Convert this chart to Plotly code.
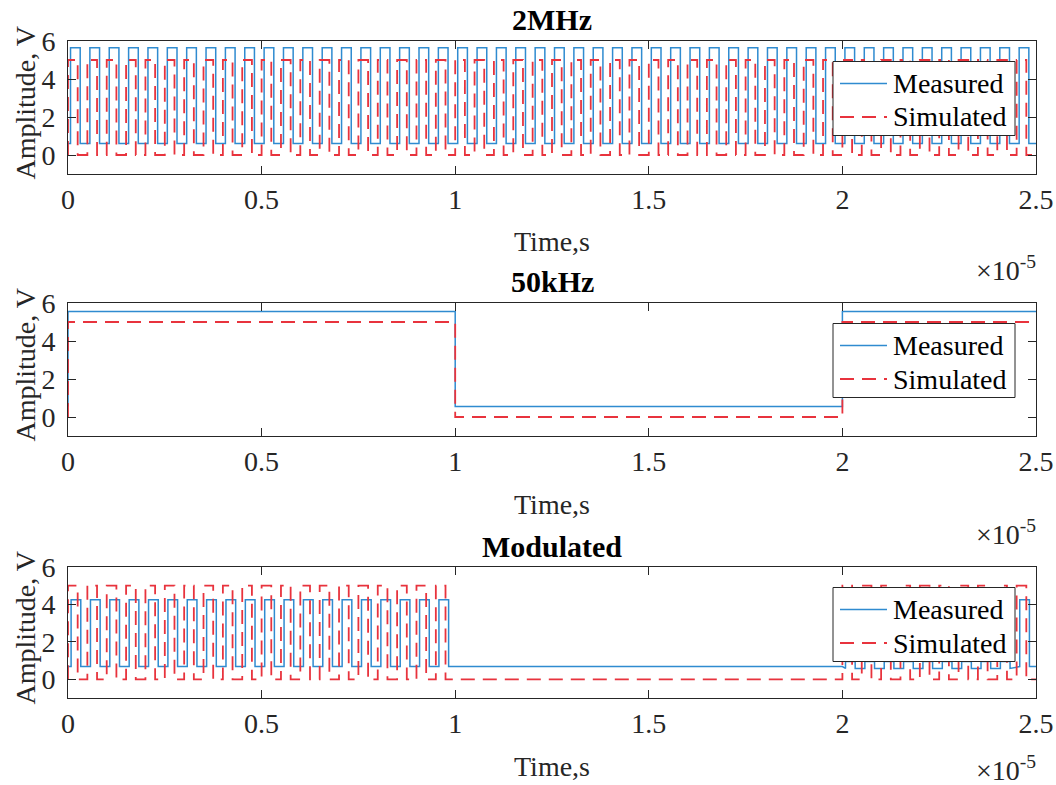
import plotly.graph_objects as go

# ---------------- data (time axis in units of 1e-5 s) ----------------
x_tick_vals = [0, 0.5, 1, 1.5, 2, 2.5]
x_tick_text = ["0", "0.5", "1", "1.5", "2", "2.5"]
y_tick_vals = [0, 2, 4, 6]
y_tick_text = ["0", "2", "4", "6"]
panel_titles = ["2MHz", "50kHz", "Modulated"]
series_names = ["Measured", "Simulated"]

carrier_period = 0.05            # 2 MHz carrier period (x1e-5 s)

# [low, high] levels (V)
meas_2mhz_levels = [0.6, 5.65]
meas_50khz_levels = [0.55, 5.55]
meas_mod_levels = [0.68, 4.25]
meas_ripple_levels = [0.58, 0.95]
sim_levels = [0.0, 5.0]

# fraction of each carrier period where the output is high [rise, fall]
meas_2mhz_window = [0.13, 0.63]
meas_mod_window = [0.16, 0.66]
sim_window = [0.0, 0.5]

# 50 kHz square wave: switching instants and state after each instant
sq50_times = [0.0, 1.0, 2.0]
sq50_states = [1, 0, 1]

# gate segments of the modulated signal: (start, end, mode)
sim_mod_gate = [(0.0, 1.0, "on"), (1.0, 2.0, "off"), (2.0, 2.5, "on")]
meas_mod_gate = [(0.0, 1.0, "on"), (1.0, 2.0, "off"),
                 (2.0, 2.45, "ripple"), (2.45, 2.5, "on")]
sim_2mhz_gate = [(0.0, 2.5, "on")]
meas_2mhz_gate = [(0.0, 2.5, "on")]
t_end = 2.5


# ---------------- helpers to turn edge lists into step traces ----------------
def gated_wave(gates, levels, window, ripple=None):
    lo, hi = levels
    xs, ys = [0.0], [lo]
    for (a, b, mode) in gates:
        if mode == "off":
            xs.append(b)
            ys.append(lo)
            continue
        l, h = (ripple if mode == "ripple" else levels)
        n0 = int(round(a / carrier_period))
        n1 = int(round(b / carrier_period))
        for n in range(n0, n1):
            p = n * carrier_period
            r = p + window[0] * carrier_period
            f = p + window[1] * carrier_period
            xs += [r, r, f, f]
            ys += [l, h, h, l]
    xs.append(t_end)
    ys.append(lo)
    return xs, ys


def switched_wave(times, states, levels):
    xs, ys = [0.0], [levels[0]]
    cur = levels[0]
    for t, s in zip(times, states):
        nv = levels[s]
        xs += [t, t]
        ys += [cur, nv]
        cur = nv
    xs.append(t_end)
    ys.append(cur)
    return xs, ys


panels = [
    (gated_wave(meas_2mhz_gate, meas_2mhz_levels, meas_2mhz_window),
     gated_wave(sim_2mhz_gate, sim_levels, sim_window)),
    (switched_wave(sq50_times, sq50_states, meas_50khz_levels),
     switched_wave(sq50_times, sq50_states, sim_levels)),
    (gated_wave(meas_mod_gate, meas_mod_levels, meas_mod_window, meas_ripple_levels),
     gated_wave(sim_mod_gate, sim_levels, sim_window)),
]

# ---------------- figure ----------------
W, H = 1056, 785
FONT = "Liberation Serif, Times New Roman, serif"
AXC = "#262626"
BLUE = "#2f8bd0"
RED = "#e8333d"
DASH = "14px,8px"

# plot-area pixel boxes (top, bottom)
panel_px = [(41, 174), (303, 436), (567, 698)]
x_px = (68, 1036)
exp_offsets = [95, 96, 70]       # vertical offset of the x10^-5 label below each panel


def px_x(p):
    return p / W


def px_y(p):
    return 1 - p / H


fig = go.Figure()
annotations = []
shapes = []
layout = dict(
    width=W, height=H,
    margin=dict(l=0, r=0, t=0, b=0, autoexpand=False),
    paper_bgcolor="white", plot_bgcolor="white",
    showlegend=False,
)

for i, ((mx, my), (sx, sy)) in enumerate(panels):
    k = "" if i == 0 else str(i + 1)
    fig.add_trace(go.Scatter(x=mx, y=my, mode="lines", name=series_names[0],
                             line=dict(color=BLUE, width=1.5),
                             xaxis="x" + k, yaxis="y" + k))
    fig.add_trace(go.Scatter(x=sx, y=sy, mode="lines", name=series_names[1],
                             line=dict(color=RED, width=1.8, dash=DASH),
                             xaxis="x" + k, yaxis="y" + k))
    top, bot = panel_px[i]
    layout["xaxis" + k] = dict(
        domain=[px_x(x_px[0]), px_x(x_px[1])], anchor="y" + k,
        range=[0, 2.5], tickvals=x_tick_vals, ticktext=x_tick_text,
        ticks="inside", ticklen=8, tickwidth=1, tickcolor=AXC,
        showline=True, linecolor=AXC, linewidth=1, mirror="ticks",
        showgrid=False, zeroline=False, ticklabelstandoff=0,
        automargin=False,
        tickfont=dict(family=FONT, size=28, color=AXC),
    )
    layout["yaxis" + k] = dict(
        domain=[px_y(bot), px_y(top)], anchor="x" + k,
        range=[-1, 6], tickvals=y_tick_vals, ticktext=y_tick_text,
        ticks="inside", ticklen=8, tickwidth=1, tickcolor=AXC,
        showline=True, linecolor=AXC, linewidth=1, mirror="ticks",
        showgrid=False, zeroline=False, ticklabelstandoff=6,
        automargin=False,
        tickfont=dict(family=FONT, size=28, color=AXC),
    )

    # ---- legend box (drawn in page pixels) ----
    lx0, lx1 = 833, 1015
    ly0, ly1 = top + 20.5, top + 94.5
    shapes.append(dict(type="rect", xref="paper", yref="paper",
                       x0=px_x(lx0), x1=px_x(lx1), y0=px_y(ly1), y1=px_y(ly0),
                       fillcolor="white", line=dict(color=AXC, width=1),
                       layer="above"))
    rows = [top + 42.5, top + 76]
    styles = [dict(color=BLUE, width=1.5), dict(color=RED, width=1.8, dash=DASH)]
    for r, (ry, st) in enumerate(zip(rows, styles)):
        shapes.append(dict(type="line", xref="paper", yref="paper",
                           x0=px_x(840), x1=px_x(887), y0=px_y(ry), y1=px_y(ry),
                           line=st, layer="above"))
        annotations.append(dict(text=series_names[r], x=px_x(891), y=px_y(ry),
                                xref="paper", yref="paper", showarrow=False,
                                xanchor="left", yanchor="middle",
                                font=dict(family=FONT, size=28, color="black")))

    cx = (x_px[0] + x_px[1]) / 2
    annotations += [
        dict(text="<b>%s</b>" % panel_titles[i], x=px_x(cx), y=px_y(top - 21),
             xref="paper", yref="paper", showarrow=False,
             xanchor="center", yanchor="middle",
             font=dict(family=FONT, size=30, color="black")),
        dict(text="Time,s", x=px_x(cx), y=px_y(bot + 68),
             xref="paper", yref="paper", showarrow=False,
             xanchor="center", yanchor="middle",
             font=dict(family=FONT, size=28, color=AXC)),
        dict(text="×10<sup>-5</sup>", x=px_x(1038), y=px_y(bot + exp_offsets[i]),
             xref="paper", yref="paper", showarrow=False,
             xanchor="right", yanchor="middle",
             font=dict(family=FONT, size=28, color=AXC)),
        dict(text="Amplitude, V", x=px_x(25), y=px_y((top + bot) / 2 - 4),
             xref="paper", yref="paper", showarrow=False, textangle=-90,
             xanchor="center", yanchor="middle",
             font=dict(family=FONT, size=28, color=AXC)),
    ]

layout["annotations"] = annotations
layout["shapes"] = shapes
fig.update_layout(**layout)
fig.write_html("out.html")
